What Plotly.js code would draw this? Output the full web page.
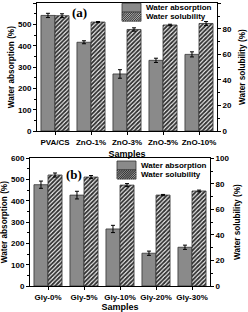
<!DOCTYPE html>
<html><head><meta charset="utf-8">
<script src="https://cdn.plot.ly/plotly-3.0.1.min.js"></script>
<style>html,body{margin:0;padding:0;background:#fff}#c{width:248px;height:312px}</style>
</head><body><div id="c"></div>
<script>
// ---- data ----
const catsA = ['PVA/CS','ZnO-1%','ZnO-3%','ZnO-5%','ZnO-10%'];
const absA = [543, 417, 268, 332, 360];
const absAErr = [10, 7, 20, 10, 12];
const solA = [90.3, 85.3, 79.5, 83.0, 84.2];
const solAErr = [1.5, 0.4, 1.3, 0.6, 1.5];
const catsB = ['Gly-0%','Gly-5%','Gly-10%','Gly-20%','Gly-30%'];
const absB = [476, 427, 268, 154, 182];
const absBErr = [17, 18, 17, 10, 10];
const solB = [86.9, 85.3, 79.0, 71.2, 74.4];
const solBErr = [1.6, 1.2, 1.2, 0.5, 0.7];
const seriesNames = ['Water absorption','Water solubility'];
const yTitleL = 'Water absorption (%)';
const yTitleR = 'Water solubility (%)';
const xTitle = 'Samples';

// ---- layout helpers ----
const W = 248, H = 312;
const M = {l:20, r:20, t:0, b:24};
const PW = W - M.l - M.r, PH = H - M.t - M.b;
const px = x => (x - M.l) / PW;
const py = y => 1 - (y - M.t) / PH;
const FONT = 'Liberation Sans, Arial, sans-serif';
const absColor = '#8a8a8a';
const BW = 0.39;

function absTrace(x, y, err, xa, ya) {
  return {type:'bar', x:x, y:y, xaxis:xa, yaxis:ya, name:seriesNames[0], showlegend:false,
    width:BW, offset:-BW,
    marker:{color:absColor, line:{color:'#333', width:0.8}},
    error_y:{type:'data', array:err, color:'#000', thickness:1, width:2}};
}
function solTrace(x, y, err, xa, ya) {
  return {type:'bar', x:x, y:y, xaxis:xa, yaxis:ya, name:seriesNames[1], showlegend:false,
    width:BW, offset:0,
    marker:{color:'#fff', line:{color:'#333', width:0.8},
      pattern:{shape:'/', fgcolor:'#333', bgcolor:'#fff', size:3, solidity:0.65}},
    error_y:{type:'data', array:err, color:'#000', thickness:1, width:2}};
}

const data = [
  absTrace(catsA, absA, absAErr, 'x', 'y'),
  solTrace(catsA, solA, solAErr, 'x', 'y2'),
  absTrace(catsB, absB, absBErr, 'x2', 'y3'),
  solTrace(catsB, solB, solBErr, 'x2', 'y4')
];

const tickF = {family:FONT, size:8, color:'#000', weight:'bold'};
const titleF = {family:FONT, size:8.2, color:'#000', weight:'bold'};
function xAx(dom, anchor) {
  return {domain:dom, anchor:anchor, showline:true, linecolor:'#000', linewidth:1, mirror:true,
    ticks:'outside', ticklen:3, tickcolor:'#000', tickfont:tickF, showgrid:false, zeroline:false,
    title:{text:xTitle, font:{family:FONT, size:9, color:'#000', weight:'bold'}, standoff:5}};
}
function yAxL(dom, anchor, so) {
  return {domain:dom, anchor:anchor, range:[0,600], dtick:100, showline:true, linecolor:'#000', linewidth:1,
    ticks:'outside', ticklen:3, tickcolor:'#000', tickfont:tickF, showgrid:false, zeroline:false,
    minor:{dtick:50, ticks:'outside', ticklen:2, tickcolor:'#000'},
    title:{text:yTitleL, font:titleF, standoff:so}};
}
function yAxR(over, anchor, so) {
  return {overlaying:over, anchor:anchor, side:'right', range:[0,100], dtick:20, showline:true, linecolor:'#000', linewidth:1,
    ticks:'outside', ticklen:3, tickcolor:'#000', tickfont:tickF, showgrid:false, zeroline:false,
    minor:{dtick:10, ticks:'outside', ticklen:2, tickcolor:'#000'},
    title:{text:yTitleR, font:titleF, standoff:so}};
}

// manual legend swatches
function hatchPath(x0, y0, x1, y1, sp) {
  let d = '';
  for (let c = x0 + y0 + sp / 2; c <= x1 + y1; c += sp) {
    let sx = Math.max(x0, c - y1), ex = Math.min(x1, c - y0);
    if (sx >= ex) continue;
    d += 'M' + px(sx) + ',' + py(c - sx) + 'L' + px(ex) + ',' + py(c - ex);
  }
  return d;
}
function legendShapes(sx0, sx1, r1y0, r1y1, r2y0, r2y1) {
  return [
    {type:'rect', xref:'paper', yref:'paper', x0:px(sx0), x1:px(sx1), y0:py(r1y1), y1:py(r1y0),
      fillcolor:absColor, line:{color:'#333', width:0.8}},
    {type:'rect', xref:'paper', yref:'paper', x0:px(sx0), x1:px(sx1), y0:py(r2y1), y1:py(r2y0),
      fillcolor:'#fff', line:{color:'#333', width:0.8}},
    {type:'path', xref:'paper', yref:'paper', path:hatchPath(sx0, r2y0, sx1, r2y1, 2.2),
      line:{color:'#333', width:1.1}}
  ];
}
function legendText(tx, y1c, y2c) {
  const f = {family:FONT, size:8, color:'#000', weight:'bold'};
  return [
    {xref:'paper', yref:'paper', x:px(tx), y:py(y1c), text:seriesNames[0], showarrow:false, xanchor:'left', yanchor:'middle', font:f},
    {xref:'paper', yref:'paper', x:px(tx), y:py(y2c), text:seriesNames[1], showarrow:false, xanchor:'left', yanchor:'middle', font:f}
  ];
}

const layout = {
  width:W, height:H, margin:M, paper_bgcolor:'#fff', plot_bgcolor:'#fff',
  showlegend:false, barmode:'overlay',
  xaxis: xAx([px(37), px(217)], 'y'),
  yaxis: yAxL([py(131), py(3.3)], 'x', 2),
  yaxis2: yAxR('y', 'x', 8),
  xaxis2: xAx([px(30), px(210)], 'y3'),
  yaxis3: yAxL([py(286), py(158.3)], 'x2', 6),
  yaxis4: yAxR('y3', 'x2', 5),
  shapes: [].concat(legendShapes(122, 141, 3.3, 12.2, 12.2, 21.2), legendShapes(117, 136, 161, 170, 170, 179)),
  annotations: [].concat(
    legendText(143.5, 7.8, 16.8), legendText(138.5, 165.5, 174.8),
    [{xref:'paper', yref:'paper', x:px(79.5), y:py(13), text:'(a)', showarrow:false, xanchor:'center', yanchor:'middle',
       font:{family:'Liberation Serif, Times New Roman, serif', size:13, color:'#000', weight:'bold'}},
     {xref:'paper', yref:'paper', x:px(73.5), y:py(174), text:'(b)', showarrow:false, xanchor:'center', yanchor:'middle',
       font:{family:'Liberation Serif, Times New Roman, serif', size:13, color:'#000', weight:'bold'}}])
};

Plotly.newPlot('c', data, layout, {staticPlot:true, displayModeBar:false});
</script></body></html>
